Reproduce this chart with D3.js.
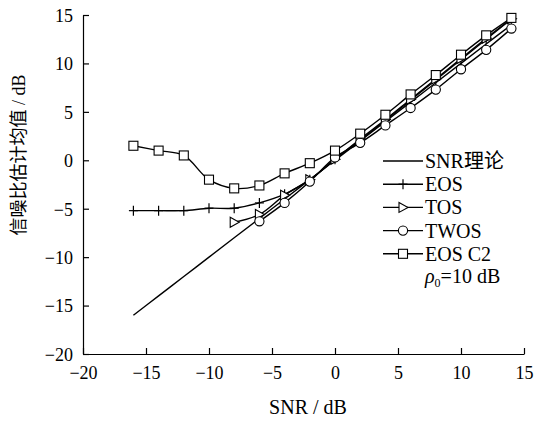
<!DOCTYPE html>
<html>
<head>
<meta charset="utf-8">
<script src="https://d3js.org/d3.v7.min.js"></script>
<style>
    body { margin: 0; background: #fff; }
    svg text { font-family: "Liberation Serif", "Times New Roman", serif; fill: #000; }
    .cjk { font-family: "Liberation Serif", "Noto Sans CJK SC", serif; }
    .curve { fill: none; stroke: #000; stroke-width: 1.4; }
    .marker { fill: #fff; stroke: #000; stroke-width: 1.1; }
</style>
</head>
<body>
<svg id="chart" width="538" height="421"></svg>
<script>
// data
const snr = [-16, -14, -12, -10, -8, -6, -4, -2, 0, 2, 4, 6, 8, 10, 12, 14];
const theory = [-16, -14, -12, -10, -8, -6, -4, -2, 0, 2, 4, 6, 8, 10, 12, 14];
const eos = [-5.2, -5.2, -5.2, -4.95, -4.95, -4.4, -3.5, -2.0, 0.1, 2.1, 4.1, 6.2, 8.3, 10.4, 12.5, 14.6];
const tosX = [-8, -6, -4, -2, 0, 2, 4, 6, 8, 10, 12, 14];
const tos = [-6.4, -5.6, -3.6, -2.0, 0.1, 2.2, 4.2, 6.3, 8.4, 10.5, 12.6, 14.6];
const twosX = [-6, -4, -2, 0, 2, 4, 6, 8, 10, 12, 14];
const twos = [-6.3, -4.4, -2.2, 0.3, 1.8, 3.6, 5.4, 7.3, 9.4, 11.4, 13.6];
const eosC2 = [1.5, 1.0, 0.5, -2.0, -2.9, -2.6, -1.35, -0.3, 1.0, 2.75, 4.7, 6.8, 8.8, 10.9, 12.9, 14.7];

const xTicks = [-20, -15, -10, -5, 0, 5, 10, 15];
const yTicks = [-20, -15, -10, -5, 0, 5, 10, 15];
const legendNames = ['SNR理论', 'EOS', 'TOS', 'TWOS', 'EOS C2'];

let margin = { left: 83, right: 14, top: 15, bottom: 67 };
const svg = d3.select('#chart');
const W = +svg.attr('width'), H = +svg.attr('height');

const x = d3.scaleLinear().domain([-20, 15]).range([margin.left, W - margin.right]);
const y = d3.scaleLinear().domain([-20, 15]).range([H - margin.bottom, margin.top]);
const fmt = d => (d < 0 ? '\u2212' + Math.abs(d) : '' + d);

// axes, ticks pointing inward
const xAxis = svg.append('g').attr('transform', 'translate(0,' + y(-20) + ')')
    .call(d3.axisBottom(x).tickValues(xTicks).tickSizeInner(-6).tickSizeOuter(0).tickPadding(12).tickFormat(fmt));
const yAxis = svg.append('g').attr('transform', 'translate(' + x(-20) + ',0)')
    .call(d3.axisLeft(y).tickValues(yTicks).tickSizeInner(-6).tickSizeOuter(0).tickPadding(10).tickFormat(fmt));
[xAxis, yAxis].forEach(a => {
    a.selectAll('path, line').attr('stroke', '#000').attr('stroke-width', 1.2);
    a.selectAll('text').style('font-size', '18px').attr('fill', '#000');
});
yAxis.selectAll('text').attr('dy', '0.35em');

svg.append('text').attr('x', 308).attr('y', 414).attr('text-anchor', 'middle')
    .style('font-size', '20px').text('SNR / dB');
svg.append('text').attr('class', 'cjk')
    .attr('transform', 'translate(25,' + 155 + ') rotate(-90)')
    .attr('text-anchor', 'middle').style('font-size', '18px').text('信噪比估计均值 / dB');

// marker drawers
const markers = {
    none: () => {},
    plus: (g, px, py) => {
        g.append('line').attr('x1', px - 4.5).attr('x2', px + 4.5).attr('y1', py).attr('y2', py).attr('stroke', '#000').attr('stroke-width', 1.2);
        g.append('line').attr('x1', px).attr('x2', px).attr('y1', py - 5).attr('y2', py + 5).attr('stroke', '#000').attr('stroke-width', 1.2);
    },
    tri: (g, px, py) => {
        g.append('path').attr('class', 'marker')
            .attr('d', 'M' + (px - 4) + ',' + (py - 5) + 'L' + (px + 5) + ',' + py + 'L' + (px - 4) + ',' + (py + 5) + 'Z');
    },
    circle: (g, px, py) => {
        g.append('circle').attr('class', 'marker').attr('cx', px).attr('cy', py).attr('r', 4.6);
    },
    square: (g, px, py) => {
        g.append('rect').attr('class', 'marker').attr('x', px - 4.5).attr('y', py - 4.5).attr('width', 9).attr('height', 9);
    }
};

const series = [
    { xs: snr, ys: theory, m: 'none' },
    { xs: snr, ys: eos, m: 'plus' },
    { xs: tosX, ys: tos, m: 'tri' },
    { xs: twosX, ys: twos, m: 'circle' },
    { xs: snr, ys: eosC2, m: 'square' }
];

const line = d3.line().x(d => x(d[0])).y(d => y(d[1])).curve(d3.curveCatmullRom.alpha(0.5));
const plot = svg.append('g');
series.forEach(s => {
    const pts = s.xs.map((v, i) => [v, s.ys[i]]);
    plot.append('path').datum(pts).attr('class', 'curve').attr('d', line);
});
series.forEach(s => {
    const g = plot.append('g');
    s.xs.forEach((v, i) => markers[s.m](g, x(v), y(s.ys[i])));
});

// legend
const leg = svg.append('g').attr('transform', 'translate(383,161)');
legendNames.forEach((name, i) => {
    const row = leg.append('g').attr('transform', 'translate(0,' + (i * 23.2) + ')');
    row.append('line').attr('x1', 0).attr('x2', 40).attr('y1', 0).attr('y2', 0)
        .attr('stroke', '#000').attr('stroke-width', 1.4);
    markers[series[i].m](row, 20, 0);
    row.append('text').attr('class', 'cjk').attr('x', 42).attr('y', 7)
        .style('font-size', '20px').text(name);
});
const rho = leg.append('text').attr('x', 42).attr('y', 5 * 23.2 + 6).style('font-size', '20px');
rho.append('tspan').style('font-style', 'italic').text('ρ');
rho.append('tspan').attr('dy', 4).style('font-size', '12px').text('0');
rho.append('tspan').attr('dy', -4).text('=10 dB');
</script>
</body>
</html>
